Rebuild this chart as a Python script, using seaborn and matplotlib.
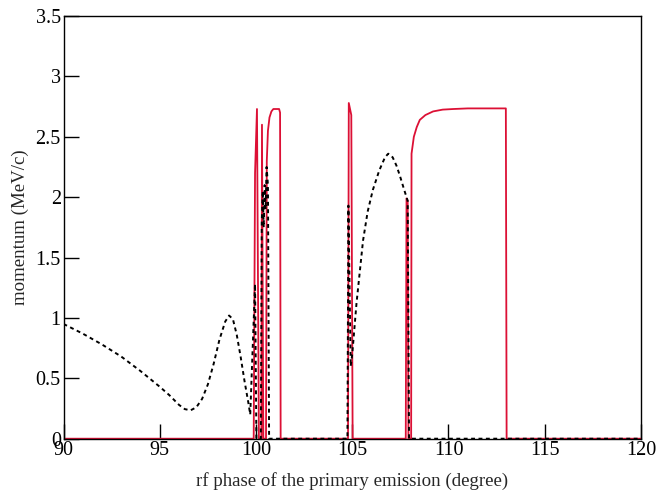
import numpy as np
import pandas as pd
import matplotlib
matplotlib.use("Agg")
import matplotlib.pyplot as plt
import seaborn as sns
from matplotlib.ticker import FormatStrFormatter

# black dashed curve (phase in degree, momentum in MeV/c)
fase_negra = [90.0, 91.0, 92.0, 93.0, 94.0, 95.0, 95.5, 96.0, 96.3, 96.6, 96.9,
              97.2, 97.5, 97.8, 98.1, 98.4, 98.6, 98.8, 99.0, 99.2, 99.4, 99.6,
              99.7, 99.95, 100.02, 100.25, 100.3, 100.35, 100.4, 100.45, 100.5,
              100.55, 100.62, 100.68, 104.75, 104.8, 104.92, 105.0, 105.22,
              105.56, 105.8, 106.07, 106.4, 106.7, 106.87, 107.1, 107.3, 107.47,
              107.7, 107.88, 107.95, 120.0]
mom_negra = [0.95, 0.87, 0.78, 0.68, 0.56, 0.43, 0.36, 0.28, 0.245, 0.235, 0.26,
             0.33, 0.45, 0.62, 0.82, 0.97, 1.02, 0.99, 0.86, 0.68, 0.48, 0.30,
             0.20, 1.28, 0.0, 0.0, 1.8, 2.05, 1.75, 2.1, 1.9,
             2.25, 2.1, 0.0, 0.0, 1.93, 0.6, 0.7, 1.12,
             1.64, 1.88, 2.06, 2.22, 2.33, 2.36, 2.33, 2.26, 2.18,
             2.06, 1.97, 0.0, 0.0]

# red solid curve
fase_roja = [90.0, 99.88, 99.95, 100.05, 100.15, 100.28, 100.31, 100.38, 100.52,
             100.56, 100.62, 100.7, 100.8, 100.9, 101.2, 101.25, 101.28, 104.78,
             104.82, 104.95, 105.02, 107.78, 107.82, 107.88, 107.92, 108.06,
             108.08, 108.2, 108.35, 108.51, 108.8, 109.2, 109.7, 110.25, 111.0,
             112.0, 112.98, 113.02, 120.0]
mom_roja = [0.0, 0.0, 2.2, 2.73, 0.0, 0.0, 2.6, 0.0, 0.0,
            2.3, 2.55, 2.66, 2.71, 2.73, 2.73, 2.7, 0.0, 0.0,
            2.78, 2.68, 0.0, 0.0, 1.99, 1.97, 0.0, 0.0,
            2.36, 2.5, 2.58, 2.64, 2.68, 2.71, 2.725, 2.73, 2.735,
            2.735, 2.735, 0.0, 0.0]

xticks = [90, 95, 100, 105, 110, 115, 120]
yticks = [0, 0.5, 1, 1.5, 2, 2.5, 3, 3.5]

df_negra = pd.DataFrame({"fase": fase_negra, "mom": mom_negra})
df_roja = pd.DataFrame({"fase": fase_roja, "mom": mom_roja})

sns.set_style("ticks")
plt.rcParams["font.family"] = ["Liberation Serif", "DejaVu Serif"]

fig = plt.figure(figsize=(6.57, 4.90), dpi=100)
ax = fig.add_axes([0.0967, 0.1047, 0.8789, 0.8626])

sns.lineplot(data=df_roja, x="fase", y="mom", sort=False, estimator=None,
             color="#dc1035", linewidth=1.3, ax=ax)
sns.lineplot(data=df_negra, x="fase", y="mom", sort=False, estimator=None,
             color="black", linewidth=1.4, linestyle=(0, (2, 1.8)), ax=ax)

ax.set_xlim(90, 120)
ax.set_ylim(0, 3.5)
ax.set_xticks(xticks)
ax.set_yticks(yticks)
ax.yaxis.set_major_formatter(FormatStrFormatter("%g"))
ax.tick_params(direction="in", length=11, width=1, colors="black",
               labelsize=14.5, top=False, right=False, pad=2)
for s in ax.spines.values():
    s.set_visible(True)
    s.set_linewidth(1)
    s.set_color("black")

ax.set_xlabel("rf phase of the primary emission (degree)", fontsize=13.6, labelpad=8)
ax.set_ylabel("momentum (MeV/c)", fontsize=13.6, labelpad=5)

fig.savefig("out.png", dpi=100)
